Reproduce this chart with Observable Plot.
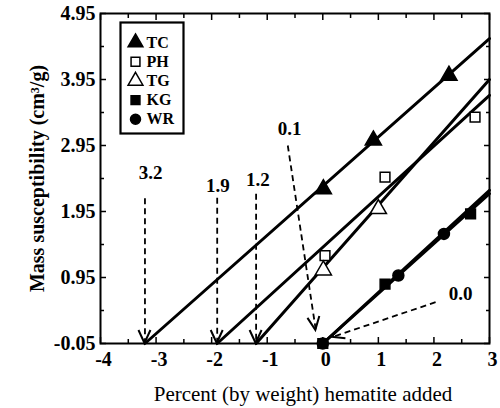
<!DOCTYPE html>
<html><head><meta charset="utf-8">
<script src="https://cdn.jsdelivr.net/npm/d3@7"></script>
<script src="https://cdn.jsdelivr.net/npm/@observablehq/plot@0.6"></script>
<style>
body{margin:0;background:#fff}
#chart svg{font-family:"Liberation Serif","Times New Roman",serif;background:#fff}
#chart svg text{font-family:"Liberation Serif","Times New Roman",serif !important}
</style>
</head><body><div id="chart"></div>
<script>
// ---- data ----
const series = ["TC", "PH", "TG", "KG", "WR"];
const seriesSymbol = ["triangle", "square", "triangle", "square", "circle"];
const seriesFilled = [true, false, false, true, true];

// fitted lines: x-intercept (at y = -0.05) and value at x = 3
const lineStartX = [-3.2, -1.9, -1.2, 0, 0];
const lineEndY = [4.57, 3.71, 3.95, 2.22, 2.27];
const lineStartY = -0.05;
const lineEndX = 3;

// measured points
const tcX = [0.01, 0.91, 2.27], tcY = [2.29, 3.03, 4.01];
const phX = [0.04, 1.12, 2.74], phY = [1.28, 2.47, 3.38];
const tgX = [0.01, 1.0], tgY = [1.06, 1.99];
const kgX = [0.0, 1.12, 2.66], kgY = [-0.05, 0.85, 1.915];
const wrX = [0.0, 1.36, 2.18], wrY = [-0.05, 0.98, 1.61];

// annotations (dashed arrows pointing at the intercepts)
const annLabels = ["3.2", "1.9", "1.2", "0.1", "0.0"];
const annLabelX = [-3.10, -1.89, -1.17, -0.595, 2.48];
const annLabelY = [2.53, 2.34, 2.43, 3.20, 0.70];
const annFromX = [-3.2, -1.9, -1.2, -0.63, 2.03];
const annFromY = [2.15, 2.16, 2.22, 2.95, 0.576];
const annToX = [-3.2, -1.9, -1.2, -0.125, 0.16];
const annToY = [-0.05, -0.05, -0.05, 0.15, 0.045];

// ticks
const xTicks = [-4, -3, -2, -1, 0, 1, 2, 3];
const xMinor = [-3.5, -2.5, -1.5, -0.5, 0.5, 1.5, 2.5];
const yTicks = [-0.05, 0.95, 1.95, 2.95, 3.95, 4.95];
const yMinor = [0.45, 1.45, 2.45, 3.45, 4.45];

const xTitle = "Percent (by weight) hematite added";
const yTitle = "Mass susceptibility (cm\u00B3/g)";

// ---- build tables ----
const lines = series.flatMap((s, i) => [
  {series: s, x: lineStartX[i], y: lineStartY},
  {series: s, x: lineEndX, y: lineEndY[i]}
]);
const ptsX = [tcX, phX, tgX, kgX, wrX], ptsY = [tcY, phY, tgY, kgY, wrY];
const points = series.flatMap((s, i) => ptsX[i].map((x, j) => ({series: s, x, y: ptsY[i][j], k: i})));
const ann = annLabels.map((t, i) => ({
  label: t, lx: annLabelX[i], ly: annLabelY[i],
  x1: annFromX[i], y1: annFromY[i], x2: annToX[i], y2: annToY[i]
}));

const serif = "Liberation Serif, Times New Roman, serif";

// arrowheads drawn in screen space at each annotation tip
function arrowHeads(index, scales) {
  const g = d3.create("svg:g").attr("fill", "none").attr("stroke", "black")
    .attr("stroke-width", 2).attr("stroke-linejoin", "miter");
  ann.forEach(a => {
    const x1 = scales.x(a.x1), y1 = scales.y(a.y1), x2 = scales.x(a.x2), y2 = scales.y(a.y2);
    const ang = Math.atan2(y2 - y1, x2 - x1);
    const L = 13, W = 6;
    const bx = x2 - L * Math.cos(ang), by = y2 - L * Math.sin(ang);
    const px = -Math.sin(ang) * W, py = Math.cos(ang) * W;
    g.append("path").attr("d", `M${bx + px},${by + py}L${x2},${y2}L${bx - px},${by - py}`);
  });
  return g.node();
}

const legendMarks = [
  Plot.frame({insetLeft: 20, insetTop: 9, insetRight: 306, insetBottom: 210, stroke: "black", strokeWidth: 2.2, fill: "white"})
];
series.forEach((s, i) => {
  legendMarks.push(Plot.dot([s], {
    frameAnchor: "top-left", dx: 35, dy: 29 + i * 19.2,
    symbol: () => seriesSymbol[i], r: seriesSymbol[i] === "triangle" ? 5.5 : 5,
    fill: seriesFilled[i] ? "black" : "white", stroke: "black", strokeWidth: 1.5
  }));
  legendMarks.push(Plot.text([s], {
    frameAnchor: "top-left", dx: 46, dy: 29 + i * 19.2, text: d => d,
    textAnchor: "start", lineAnchor: "middle", fontSize: 16, fontWeight: "bold", fontFamily: serif, fill: "black"
  }));
});

const dotMarks = series.map((s, i) => Plot.dot(points.filter(p => p.k === i), {
  x: "x", y: "y", symbol: () => seriesSymbol[i],
  r: seriesSymbol[i] === "triangle" ? 6 : 5.5,
  fill: seriesFilled[i] ? "black" : "white", stroke: "black", strokeWidth: 1.5
}));

const chart = Plot.plot({
  width: 500, height: 408,
  marginLeft: 100, marginRight: 11, marginTop: 13, marginBottom: 65,
  x: {domain: [-4, 3]},
  y: {domain: [-0.05, 4.95]},
  style: {fontFamily: serif, color: "black"},
  marks: [
    // inward ticks on all four sides
    Plot.axisX(xTicks, {anchor: "bottom", tickSize: -6, text: null, label: null, strokeWidth: 1.5}),
    Plot.axisX(xMinor, {anchor: "bottom", tickSize: -4, text: null, label: null, strokeWidth: 1.5}),
    Plot.axisX(xTicks, {anchor: "top", tickSize: -6, text: null, label: null, strokeWidth: 1.5}),
    Plot.axisX(xMinor, {anchor: "top", tickSize: -4, text: null, label: null, strokeWidth: 1.5}),
    Plot.axisY(yTicks, {anchor: "left", tickSize: -6, text: null, label: null, strokeWidth: 1.5}),
    Plot.axisY(yMinor, {anchor: "left", tickSize: -4, text: null, label: null, strokeWidth: 1.5}),
    Plot.axisY(yTicks, {anchor: "right", tickSize: -6, text: null, label: null, strokeWidth: 1.5}),
    Plot.axisY(yMinor, {anchor: "right", tickSize: -4, text: null, label: null, strokeWidth: 1.5}),
    // tick labels
    Plot.axisX(xTicks, {anchor: "bottom", tickSize: 0, tickPadding: 8, dx: 3, tickFormat: d => String(d),
      label: null, fontSize: 20, fontWeight: "bold", fontFamily: serif, fill: "black"}),
    Plot.axisY(yTicks, {anchor: "left", tickSize: 0, tickPadding: 5, tickFormat: d => d.toFixed(2),
      label: null, fontSize: 20, fontWeight: "bold", fontFamily: serif, fill: "black"}),
    // axis titles
    Plot.text([xTitle], {frameAnchor: "bottom", dy: 51, dx: 8, text: d => d, fontSize: 21,
      fontFamily: serif, fontWeight: "normal", fill: "black", textAnchor: "middle", lineAnchor: "middle"}),
    Plot.text([yTitle], {frameAnchor: "left", dx: -63, rotate: -90, text: d => d, fontSize: 20,
      fontFamily: serif, fontWeight: "bold", fill: "black", textAnchor: "middle", lineAnchor: "middle"}),
    // fitted lines
    Plot.line(lines, {x: "x", y: "y", z: "series", stroke: "black", strokeWidth: 3}),
    // dashed annotation arrows
    Plot.link(ann, {x1: "x1", y1: "y1", x2: "x2", y2: "y2", stroke: "black", strokeWidth: 1.8, strokeDasharray: "6,4"}),
    arrowHeads,
    Plot.text(ann, {x: "lx", y: "ly", text: "label", fontSize: 19, fontWeight: "bold", fontFamily: serif, fill: "black"}),
    ...dotMarks,
    ...legendMarks,
    Plot.frame({stroke: "black", strokeWidth: 2})
  ]
});
document.getElementById("chart").append(chart);
</script>
</body></html>
